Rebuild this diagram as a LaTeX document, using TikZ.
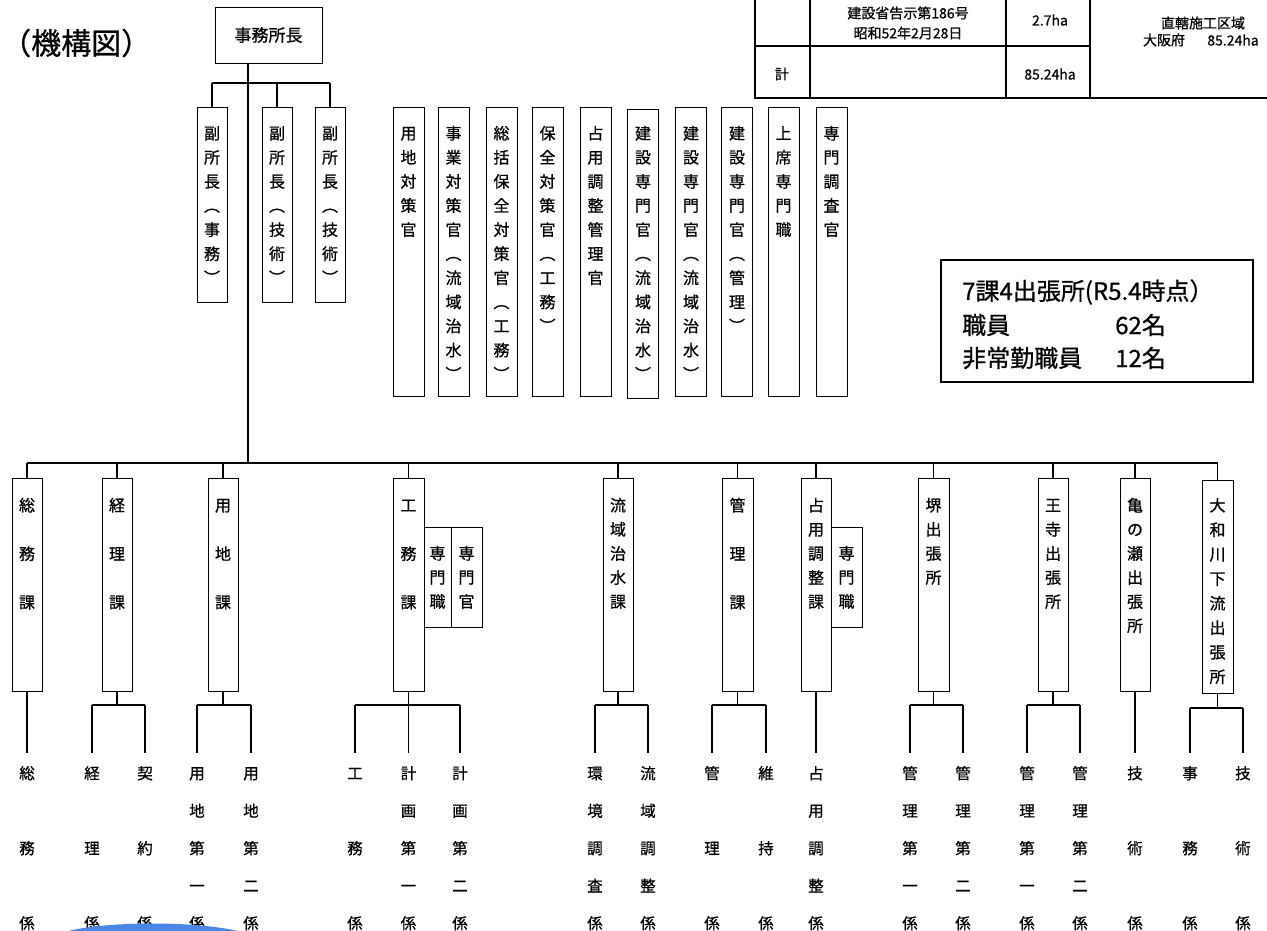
\documentclass[tikz,border=0pt]{standalone}
\usepackage{fontspec}
\setmainfont{Noto Sans CJK JP}[FakeBold=0.8]
\definecolor{arcblue}{RGB}{74,134,232}
\newcommand\mytop{\rule{0pt}{1em}}
\tikzset{
  box/.style={draw, line width=1pt, inner sep=0pt},
  vt/.style={font=\fontsize{16}{24.1}\selectfont, align=center, inner sep=0pt, anchor=north},
  vtw/.style={font=\fontsize{16}{48.5}\selectfont, align=center, inner sep=0pt, anchor=north},
  lb/.style={font=\fontsize{15.5}{37.5}\selectfont, align=center, inner sep=0pt, anchor=north},
  tb/.style={font=\fontsize{14}{16}\selectfont, inner sep=0pt},
  ln/.style={line width=1.3pt},
  thk/.style={line width=2.4pt},
  dep/.style={box, minimum width=30pt, minimum height=195pt},
  stf/.style={box, minimum width=31pt, minimum height=289pt},
  dpt/.style={box, minimum width=30pt, minimum height=213pt},
  sub/.style={box, minimum height=100pt},
}
\begin{document}
\begin{tikzpicture}[x=1pt,y=-1pt]
\useasboundingbox (0,0) rectangle (1267,930);

% title
\node[font=\fontsize{30}{32}\selectfont, inner sep=0pt, anchor=west] (title) at (1,43) {（機構図）};

% chief
\node[box, minimum width=107pt, minimum height=56pt, font=\fontsize{17}{20}\selectfont] (chief) at (268.5,35) {事務所長};

% table (top right)
\draw[ln] (755,0) -- (755,98) -- (1267,98);
\draw[ln] (810,0) -- (810,98);
\draw[ln] (1006,0) -- (1006,98);
\draw[ln] (1090,0) -- (1090,98);
\draw[ln] (755,46) -- (1090,46);
\node[tb] (t1) at (908,13) {建設省告示第186号};
\node[tb] (t2) at (908,33) {昭和52年2月28日};
\node[tb] (t3) at (1050,20) {2.7ha};
\node[tb] (t4) at (1203,23) {直轄施工区域};
\node[tb] (t5) at (1164,40) {大阪府};
\node[tb] (t6) at (1233,40) {85.24ha};
\node[tb] (t7) at (782,74) {計};
\node[tb] (t8) at (1050,74) {85.24ha};

% deputies
\node[dep] (dep1) at (212,204.5) {};
\node[dep] (dep2) at (277,204.5) {};
\node[dep] (dep3) at (330,204.5) {};
\node[vt] (dt1) at (212,123.1) {\mytop 副\\所\\長\\︵\\事\\務\\︶};
\node[vt] (dt2) at (277,123.1) {\mytop 副\\所\\長\\︵\\技\\術\\︶};
\node[vt] (dt3) at (330,123.1) {\mytop 副\\所\\長\\︵\\技\\術\\︶};

% staff officers
\node[stf] (s1) at (408.5,251.5) {};
\node[stf] (s2) at (453.5,251.5) {};
\node[stf] (s3) at (501.5,251.5) {};
\node[stf] (s4) at (547.5,251.5) {};
\node[stf] (s5) at (595.5,251.5) {};
\node[stf] (s6) at (643,253.5) {};
\node[stf] (s7) at (691,251.5) {};
\node[stf] (s8) at (737,251.5) {};
\node[stf] (s9) at (783.5,251.5) {};
\node[stf] (s10) at (831.5,251.5) {};
\node[vt] (st1) at (408.5,123.1) {\mytop 用\\地\\対\\策\\官};
\node[vt] (st2) at (453.5,123.1) {\mytop 事\\業\\対\\策\\官\\︵\\流\\域\\治\\水\\︶};
\node[vt] (st3) at (501.5,123.1) {\mytop 総\\括\\保\\全\\対\\策\\官\\︵\\工\\務\\︶};
\node[vt] (st4) at (547.5,123.1) {\mytop 保\\全\\対\\策\\官\\︵\\工\\務\\︶};
\node[vt] (st5) at (595.5,123.1) {\mytop 占\\用\\調\\整\\管\\理\\官};
\node[vt] (st6) at (643,123.1) {\mytop 建\\設\\専\\門\\官\\︵\\流\\域\\治\\水\\︶};
\node[vt] (st7) at (691,123.1) {\mytop 建\\設\\専\\門\\官\\︵\\流\\域\\治\\水\\︶};
\node[vt] (st8) at (737,123.1) {\mytop 建\\設\\専\\門\\官\\︵\\管\\理\\︶};
\node[vt] (st9) at (783.5,123.1) {\mytop 上\\席\\専\\門\\職};
\node[vt] (st10) at (831.5,123.1) {\mytop 専\\門\\調\\査\\官};

% info box
\node[draw, line width=1.3pt, minimum width=312pt, minimum height=122pt, inner sep=0pt] (info) at (1097,321) {};
\node[font=\fontsize{24}{26}\selectfont, inner sep=0pt, anchor=west] (i1) at (962,292) {7課4出張所(R5.4時点）};
\node[font=\fontsize{24}{26}\selectfont, inner sep=0pt, anchor=west] (i2) at (962,325) {職員};
\node[font=\fontsize{24}{26}\selectfont, inner sep=0pt, anchor=west] (i3) at (1115,325) {62名};
\node[font=\fontsize{24}{26}\selectfont, inner sep=0pt, anchor=west] (i4) at (962,358) {非常勤職員};
\node[font=\fontsize{24}{26}\selectfont, inner sep=0pt, anchor=west] (i5) at (1115,358) {12名};

% departments
\node[dpt] (somu) at (27,584.5) {};
\node[dpt] (keiri) at (117,584.5) {};
\node[dpt] (youchi) at (223,584.5) {};
\node[dpt, minimum width=31pt] (koumu) at (408.5,584.5) {};
\node[dpt] (ryuiki) at (618,584.5) {};
\node[dpt, minimum width=31pt] (kanri) at (737.5,584.5) {};
\node[dpt] (senyou) at (816,584.5) {};
\node[dpt, minimum width=31pt] (sakai) at (933.5,584.5) {};
\node[dpt] (ouji) at (1053,584.5) {};
\node[dpt] (kame) at (1135,584.5) {};
\node[dpt, minimum width=31pt] (yamato) at (1217.5,586.5) {};
\node[sub, minimum width=27pt] (ksm1) at (437.5,577) {};
\node[sub, minimum width=31pt] (ksm2) at (466.5,577) {};
\node[sub, minimum width=31pt] (ssm) at (846.5,577) {};

\node[vtw] (dt-somu) at (27,495.1) {\mytop 総\\務\\課};
\node[vtw] (dt-keiri) at (117,495.1) {\mytop 経\\理\\課};
\node[vtw] (dt-youchi) at (223,495.1) {\mytop 用\\地\\課};
\node[vtw] (dt-koumu) at (408.5,495.1) {\mytop 工\\務\\課};
\node[vt] (dt-ryuiki) at (618,495.1) {\mytop 流\\域\\治\\水\\課};
\node[vtw] (dt-kanri) at (737.5,495.1) {\mytop 管\\理\\課};
\node[vt] (dt-senyou) at (816,495.1) {\mytop 占\\用\\調\\整\\課};
\node[vt] (dt-sakai) at (933.5,495.1) {\mytop 堺\\出\\張\\所};
\node[vt] (dt-ouji) at (1053,495.1) {\mytop 王\\寺\\出\\張\\所};
\node[vt] (dt-kame) at (1135,495.1) {\mytop 亀\\の\\瀬\\出\\張\\所};
\node[vt, font=\fontsize{16}{24.5}\selectfont] (dt-yamato) at (1217.5,495.1) {\mytop 大\\和\\川\\下\\流\\出\\張\\所};
\node[vt] (dt-ksm1) at (437.5,543.1) {\mytop 専\\門\\職};
\node[vt] (dt-ksm2) at (466.5,543.1) {\mytop 専\\門\\官};
\node[vt] (dt-ssm) at (846.5,543.1) {\mytop 専\\門\\職};

% section labels
\node[lb] (l1) at (27,763.4) {\mytop 総\\ \\務\\ \\係};
\node[lb] (l2) at (92,763.4) {\mytop 経\\ \\理\\ \\係};
\node[lb] (l3) at (145,763.4) {\mytop 契\\ \\約\\ \\係};
\node[lb] (l4) at (197,763.4) {\mytop 用\\地\\第\\一\\係};
\node[lb] (l5) at (251,763.4) {\mytop 用\\地\\第\\二\\係};
\node[lb] (l6) at (355,763.4) {\mytop 工\\ \\務\\ \\係};
\node[lb] (l7) at (408.5,763.4) {\mytop 計\\画\\第\\一\\係};
\node[lb] (l8) at (460,763.4) {\mytop 計\\画\\第\\二\\係};
\node[lb] (l9) at (595,763.4) {\mytop 環\\境\\調\\査\\係};
\node[lb] (l10) at (648,763.4) {\mytop 流\\域\\調\\整\\係};
\node[lb] (l11) at (712,763.4) {\mytop 管\\ \\理\\ \\係};
\node[lb] (l12) at (766,763.4) {\mytop 維\\ \\持\\ \\係};
\node[lb] (l13) at (816,763.4) {\mytop 占\\用\\調\\整\\係};
\node[lb] (l14) at (910,763.4) {\mytop 管\\理\\第\\一\\係};
\node[lb] (l15) at (963,763.4) {\mytop 管\\理\\第\\二\\係};
\node[lb] (l16) at (1027,763.4) {\mytop 管\\理\\第\\一\\係};
\node[lb] (l17) at (1080,763.4) {\mytop 管\\理\\第\\二\\係};
\node[lb] (l18) at (1135,763.4) {\mytop 技\\ \\術\\ \\係};
\node[lb] (l19) at (1190,763.4) {\mytop 事\\ \\務\\ \\係};
\node[lb] (l20) at (1243,763.4) {\mytop 技\\ \\術\\ \\係};

% connectors: top
\coordinate (dbar) at (0,83);
\coordinate (bus) at (0,463);
\coordinate (sbar) at (0,705);
\coordinate (sbar2) at (0,708);
\coordinate (lab) at (0,753);

\draw[ln] ([xshift=-20.5pt]chief.south) -- ([xshift=-20.5pt]chief.south |- bus);
\draw[thk] (dep1.north |- dbar) -- (dep3.north |- dbar);
\foreach \d in {dep1,dep2,dep3} \draw[ln] (\d.north) -- (\d.north |- dbar);

\draw[ln] (somu.north |- bus) -- (yamato.north |- bus);
\foreach \d in {somu,keiri,youchi,koumu,ryuiki,kanri,senyou,sakai,ouji,kame,yamato}
  \draw[ln] (\d.north) -- (\d.north |- bus);

% connectors: bottom
\draw[ln] (somu.south) -- (l1.north |- lab);
\draw[ln] (keiri.south) -- (keiri.south |- sbar);
\draw[ln] (l2.north |- sbar) -- (l3.north |- sbar);
\draw[ln] (youchi.south) -- (youchi.south |- sbar);
\draw[thk] (l4.north |- sbar) -- (l5.north |- sbar);
\draw[ln] (koumu.south) -- (l7.north |- lab);
\draw[thk] (l6.north |- sbar) -- (l8.north |- sbar);
\draw[ln] (ryuiki.south) -- (ryuiki.south |- sbar);
\draw[ln] (l9.north |- sbar) -- (l10.north |- sbar);
\draw[ln] (kanri.south) -- (kanri.south |- sbar);
\draw[ln] (l11.north |- sbar) -- (l12.north |- sbar);
\draw[ln] (senyou.south) -- (l13.north |- lab);
\draw[ln] (sakai.south) -- (sakai.south |- sbar);
\draw[ln] (l14.north |- sbar) -- (l15.north |- sbar);
\draw[ln] (ouji.south) -- (ouji.south |- sbar);
\draw[ln] (l16.north |- sbar) -- (l17.north |- sbar);
\draw[ln] (kame.south) -- (l18.north |- lab);
\draw[ln] (yamato.south) -- (yamato.south |- sbar2);
\draw[thk] (l19.north |- sbar2) -- (l20.north |- sbar2);
\foreach \l in {l2,l3,l4,l5,l6,l8,l9,l10,l11,l12,l14,l15,l16,l17}
  \draw[ln] (\l.north |- sbar) -- (\l.north |- lab);
\foreach \l in {l19,l20}
  \draw[ln] (\l.north |- sbar2) -- (\l.north |- lab);

% blue arc at bottom edge
\fill[arcblue] (68,931) .. controls (110,921) and (195,921) .. (238,931) -- cycle;
\end{tikzpicture}
\end{document}
